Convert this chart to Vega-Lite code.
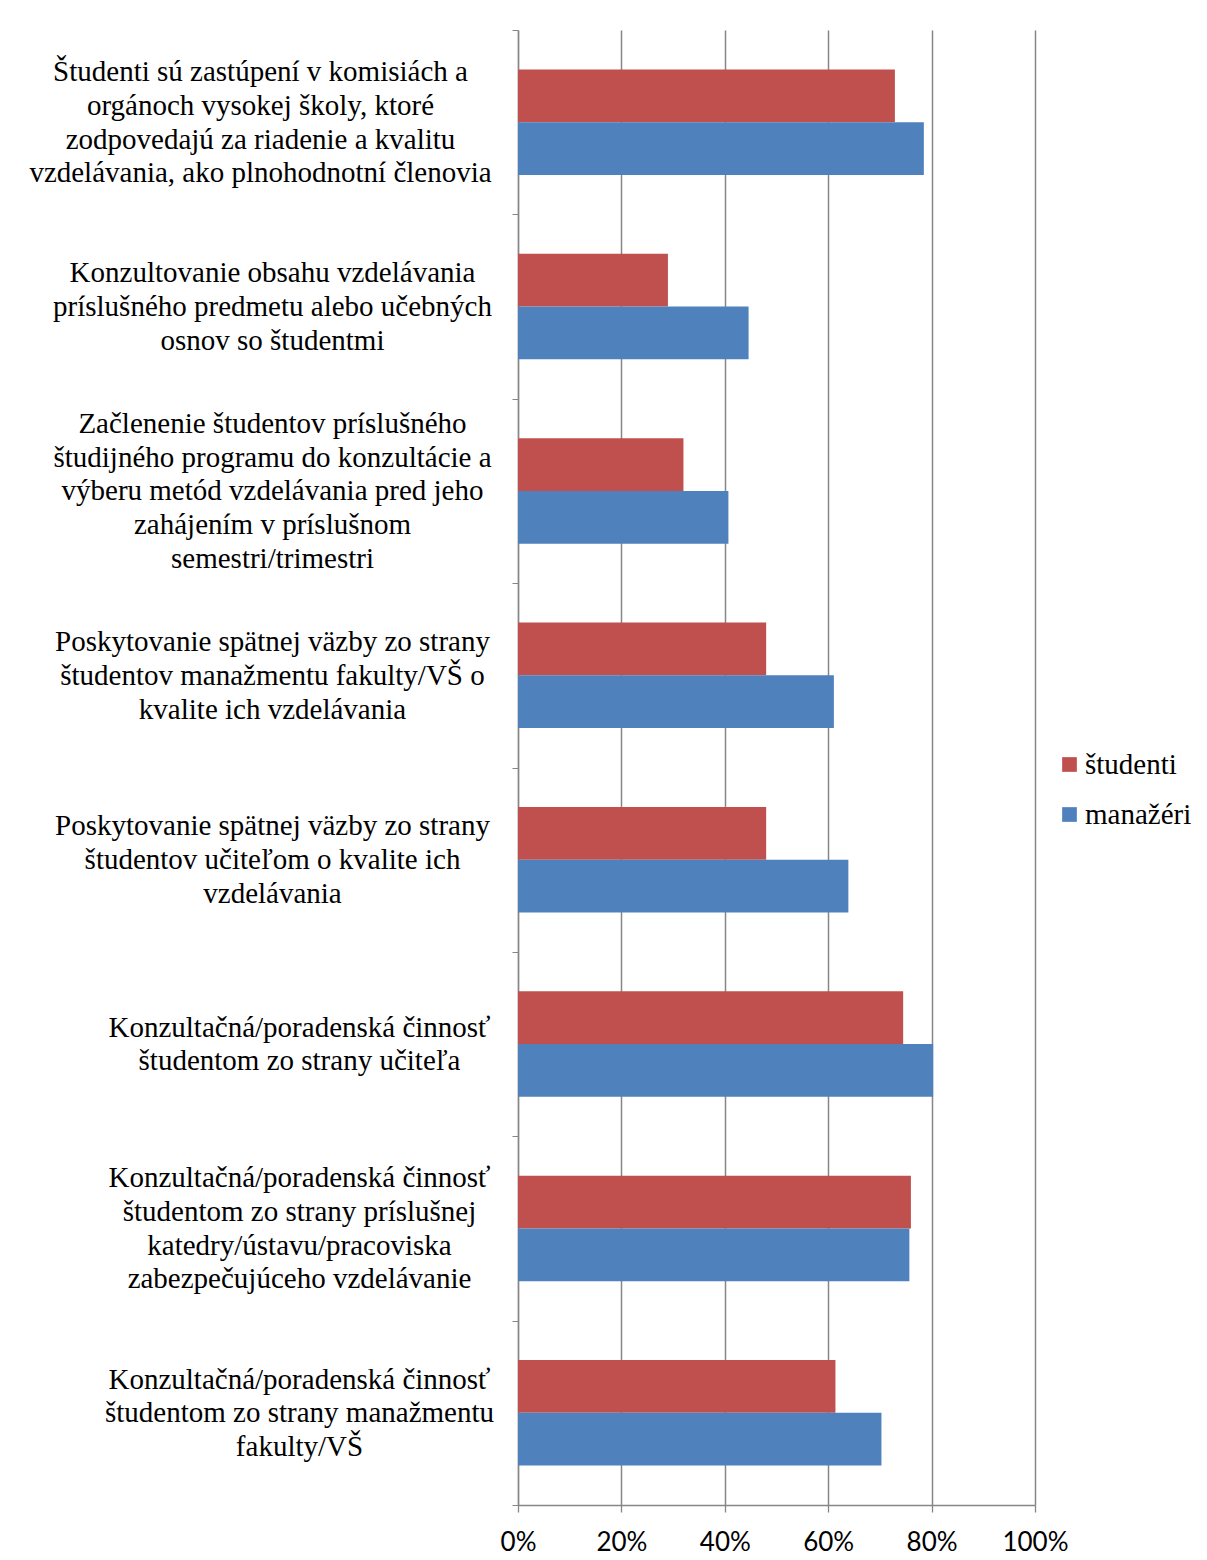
{
  "$schema": "https://vega.github.io/schema/vega-lite/v6.json",
  "width": 517,
  "height": 1475,
  "autosize": {"type": "none"},
  "padding": {"left": 518, "top": 30, "right": 172, "bottom": 55},
  "background": "white",
  "config": {"view": {"stroke": null}},
  "data": {
    "values": [
      {"item": "Študenti sú zastúpení v komisiách a|orgánoch vysokej školy, ktoré|zodpovedajú za riadenie a kvalitu|vzdelávania, ako plnohodnotní členovia", "series": "študenti", "value": 0.729},
      {"item": "Študenti sú zastúpení v komisiách a|orgánoch vysokej školy, ktoré|zodpovedajú za riadenie a kvalitu|vzdelávania, ako plnohodnotní členovia", "series": "manažéri", "value": 0.785},
      {"item": "Konzultovanie obsahu vzdelávania|príslušného predmetu alebo učebných|osnov so študentmi", "series": "študenti", "value": 0.29},
      {"item": "Konzultovanie obsahu vzdelávania|príslušného predmetu alebo učebných|osnov so študentmi", "series": "manažéri", "value": 0.446},
      {"item": "Začlenenie študentov príslušného|študijného programu do konzultácie a|výberu metód vzdelávania pred jeho|zahájením v príslušnom|semestri/trimestri", "series": "študenti", "value": 0.32},
      {"item": "Začlenenie študentov príslušného|študijného programu do konzultácie a|výberu metód vzdelávania pred jeho|zahájením v príslušnom|semestri/trimestri", "series": "manažéri", "value": 0.407},
      {"item": "Poskytovanie spätnej väzby zo strany|študentov manažmentu fakulty/VŠ o|kvalite ich vzdelávania", "series": "študenti", "value": 0.48},
      {"item": "Poskytovanie spätnej väzby zo strany|študentov manažmentu fakulty/VŠ o|kvalite ich vzdelávania", "series": "manažéri", "value": 0.611},
      {"item": "Poskytovanie spätnej väzby zo strany|študentov učiteľom o kvalite ich|vzdelávania", "series": "študenti", "value": 0.48},
      {"item": "Poskytovanie spätnej väzby zo strany|študentov učiteľom o kvalite ich|vzdelávania", "series": "manažéri", "value": 0.639},
      {"item": "Konzultačná/poradenská činnosť|študentom zo strany učiteľa", "series": "študenti", "value": 0.745},
      {"item": "Konzultačná/poradenská činnosť|študentom zo strany učiteľa", "series": "manažéri", "value": 0.803},
      {"item": "Konzultačná/poradenská činnosť|študentom zo strany príslušnej|katedry/ústavu/pracoviska|zabezpečujúceho vzdelávanie", "series": "študenti", "value": 0.76},
      {"item": "Konzultačná/poradenská činnosť|študentom zo strany príslušnej|katedry/ústavu/pracoviska|zabezpečujúceho vzdelávanie", "series": "manažéri", "value": 0.757},
      {"item": "Konzultačná/poradenská činnosť|študentom zo strany manažmentu|fakulty/VŠ", "series": "študenti", "value": 0.614},
      {"item": "Konzultačná/poradenská činnosť|študentom zo strany manažmentu|fakulty/VŠ", "series": "manažéri", "value": 0.703}
    ]
  },
  "mark": {"type": "bar"},
  "encoding": {
    "y": {
      "field": "item",
      "type": "nominal",
      "sort": null,
      "title": null,
      "scale": {"paddingInner": 0, "paddingOuter": 0},
      "axis": {
        "tickBand": "extent",
        "tickSize": 6,
        "tickColor": "#868686",
        "domainColor": "#868686",
        "domainWidth": 1.3,
        "grid": false,
        "labelFont": "Liberation Serif",
        "labelFontSize": 29,
        "labelLineHeight": 33.7,
        "labelColor": "black",
        "labelAlign": "center",
        "labelBaseline": "middle",
        "labelLimit": 1000,
        "labelExpr": "split(datum.label, '|')",
        "labelPadding": {
          "condition": [
            {"test": "indexof('' + (datum ? datum.value : ''), 'Konzultačná') == 0", "value": 213},
            {"test": "indexof('' + (datum ? datum.value : ''), 'Študenti') == 0", "value": 252}
          ],
          "value": 240
        },
        "labelOffset": {
          "condition": [
            {"test": "length(split('' + (datum ? datum.value : ''), '|')) == 2", "value": -16.85},
            {"test": "length(split('' + (datum ? datum.value : ''), '|')) == 4", "value": -50.55},
            {"test": "length(split('' + (datum ? datum.value : ''), '|')) == 5", "value": -67.4}
          ],
          "value": -33.7
        }
      }
    },
    "yOffset": {
      "field": "series",
      "type": "nominal",
      "sort": ["študenti", "manažéri"],
      "scale": {"paddingInner": 0, "paddingOuter": 0.746}
    },
    "x": {
      "field": "value",
      "type": "quantitative",
      "title": null,
      "scale": {"domain": [0, 1], "nice": false},
      "axis": {
        "format": "%",
        "values": [0, 0.2, 0.4, 0.6, 0.8, 1],
        "grid": true,
        "gridColor": "#868686",
        "gridWidth": 1.5,
        "tickColor": "#868686",
        "tickWidth": 1.3,
        "domainColor": "#868686",
        "domainWidth": 1.3,
        "tickSize": 7,
        "labelFont": "Lato",
        "labelFontSize": 26,
        "labelColor": "black",
        "labelPadding": 17,
        "labelFlush": false,
        "labelOverlap": false
      }
    },
    "color": {
      "field": "series",
      "type": "nominal",
      "sort": ["študenti", "manažéri"],
      "scale": {"domain": ["študenti", "manažéri"], "range": ["#C0504D", "#4F81BD"]},
      "legend": {
        "orient": "none",
        "legendX": 537,
        "legendY": 720,
        "title": null,
        "padding": 0,
        "symbolType": "square",
        "symbolSize": 216,
        "symbolStrokeWidth": 0,
        "symbolOpacity": 1,
        "labelFont": "Liberation Serif",
        "labelFontSize": 29,
        "labelColor": "black",
        "labelOffset": 1,
        "rowPadding": 20
      }
    }
  }
}
